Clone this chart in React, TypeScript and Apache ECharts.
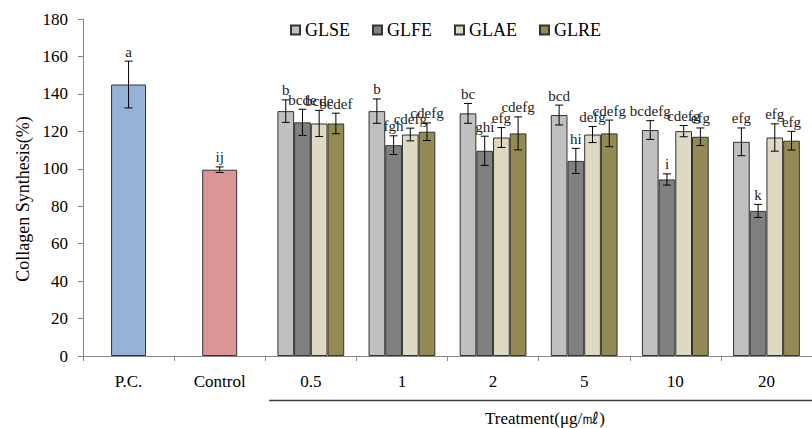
import React, { useEffect, useRef } from "react";
import * as echarts from "echarts";

const categories = ["P.C.", "Control", "0.5", "1", "2", "5", "10", "20"];
const yTicks = { min: 0, max: 180, interval: 20 };

const refValues = [145, 99.5];
const refErrors = [12.5, 1.5];
const refLetters = ["a", "ij"];

const groupNames = ["GLSE", "GLFE", "GLAE", "GLRE"];
const glse = [130.8, 130.8, 129.6, 128.7, 120.7, 114.4];
const glseErr = [6, 6.5, 5.3, 5.3, 5, 7.4];
const glseLetters = ["b", "b", "bc", "bcd", "bcdefg", "efg"];
const glfe = [124.8, 112.6, 109.6, 104.2, 94.3, 77.5];
const glfeErr = [7, 5, 7.8, 6.7, 3, 3.5];
const glfeLetters = ["bcde", "fgh", "ghi", "hi", "i", "k"];
const glae = [124.2, 118.3, 116.7, 118.3, 120.1, 116.7];
const glaeErr = [7, 3.4, 5.3, 4.3, 3, 7.3];
const glaeLetters = ["bcde", "cdefg", "efg", "defg", "cdefg", "efg"];
const glre = [124.2, 119.8, 118.9, 118.9, 117.1, 115];
const glreErr = [5.5, 4.7, 8.8, 7.1, 4.7, 5];
const glreLetters = ["bcdef", "cdefg", "cdefg", "cdefg", "efg", "efg"];

const groupValues = [glse, glfe, glae, glre];
const groupErrors = [glseErr, glfeErr, glaeErr, glreErr];
const groupLetters = [glseLetters, glfeLetters, glaeLetters, glreLetters];

const refColors = ["#95b3d7", "#d99694"];
const groupColors = ["#c0c0c0", "#808080", "#ddd9c3", "#948a54"];

const FONT = "Liberation Serif";
const GROUP_BAR_W = 16.7;
const REF_BAR_W = 35;
const FIRST_GROUP_CAT = 2;

function errRender(offset: number, letters: string[]) {
  return (params: any, api: any) => {
    const ci = api.value(0);
    const v = api.value(1);
    const e = api.value(2);
    const top = api.coord([ci, v + e]);
    const bot = api.coord([ci, v - e]);
    const x = top[0] + offset;
    const cap = 4;
    const ls = { stroke: "#000", lineWidth: 1 };
    return {
      type: "group",
      children: [
        { type: "line", shape: { x1: x, y1: top[1], x2: x, y2: bot[1] }, style: ls },
        { type: "line", shape: { x1: x - cap, y1: top[1], x2: x + cap, y2: top[1] }, style: ls },
        { type: "line", shape: { x1: x - cap, y1: bot[1], x2: x + cap, y2: bot[1] }, style: ls },
        {
          type: "text",
          x: x,
          y: top[1] - 2,
          style: {
            text: letters[params.dataIndex],
            fill: "#222",
            fontFamily: FONT,
            fontSize: 15,
            align: "center",
            verticalAlign: "bottom",
          },
        },
      ],
    };
  };
}

export default function App() {
  const ref = useRef<HTMLDivElement>(null);
  useEffect(() => {
    document.body.style.margin = "0";
    if (!ref.current) return;
    const chart = echarts.init(ref.current, null, { renderer: "svg" });

    const refData: any[] = categories.map((_, i) =>
      i < refValues.length
        ? { value: refValues[i], itemStyle: { color: refColors[i] } }
        : "-"
    );

    const groupBarSeries = groupNames.map((name, k) => ({
      name,
      type: "bar",
      xAxisIndex: 1,
      barWidth: GROUP_BAR_W,
      barGap: "0%",
      itemStyle: { color: groupColors[k], borderColor: "#333", borderWidth: 1 },
      data: categories.map((_, i) =>
        i >= FIRST_GROUP_CAT ? groupValues[k][i - FIRST_GROUP_CAT] : "-"
      ),
    }));

    const groupErrSeries = groupNames.map((name, k) => ({
      type: "custom",
      xAxisIndex: 0,
      z: 5,
      renderItem: errRender((k - 1.5) * GROUP_BAR_W, groupLetters[k]),
      data: groupValues[k].map((v, j) => [j + FIRST_GROUP_CAT, v, groupErrors[k][j]]),
    }));

    const option: any = {
      animation: false,
      grid: { left: 83, top: 19, width: 735, height: 337 },
      legend: {
        data: groupNames,
        left: 285,
        top: 16,
        icon: "rect",
        itemWidth: 9,
        itemHeight: 9,
        itemGap: 22,
        textStyle: { fontFamily: FONT, fontSize: 18, color: "#000" },
      },
      xAxis: [
        {
          type: "category",
          data: categories,
          axisLine: { lineStyle: { color: "#868686" } },
          axisTick: { show: true, length: 5, lineStyle: { color: "#868686" } },
          axisLabel: { fontFamily: FONT, fontSize: 17, color: "#000", margin: 17 },
        },
        { type: "category", data: categories, show: false },
      ],
      yAxis: {
        type: "value",
        min: yTicks.min,
        max: yTicks.max,
        interval: yTicks.interval,
        splitLine: { show: false },
        axisLine: { show: true, lineStyle: { color: "#868686" } },
        axisTick: { show: true, length: 5, lineStyle: { color: "#868686" } },
        axisLabel: { fontFamily: FONT, fontSize: 17, color: "#000", margin: 15 },
      },
      graphic: [
        {
          type: "text",
          x: 23,
          y: 199,
          rotation: Math.PI / 2,
          style: {
            text: "Collagen Synthesis(%)",
            fontFamily: FONT,
            fontSize: 18,
            fill: "#000",
            align: "center",
            verticalAlign: "middle",
          },
        },
        {
          type: "line",
          shape: { x1: 269, y1: 400.5, x2: 812, y2: 400.5 },
          style: { stroke: "#404040", lineWidth: 1.5 },
        },
        {
          type: "text",
          x: 545,
          y: 418,
          style: {
            text: "Treatment(μg/㎖)",
            fontFamily: FONT,
            fontSize: 17,
            fill: "#000",
            align: "center",
            verticalAlign: "middle",
          },
        },
      ],
      series: [
        {
          name: "Reference",
          type: "bar",
          xAxisIndex: 0,
          barWidth: REF_BAR_W,
          itemStyle: { borderColor: "#333", borderWidth: 1 },
          data: refData,
        },
        ...groupBarSeries,
        {
          type: "custom",
          xAxisIndex: 0,
          z: 5,
          renderItem: errRender(0, refLetters),
          data: refValues.map((v, i) => [i, v, refErrors[i]]),
        },
        ...groupErrSeries,
      ],
    };
    chart.setOption(option);
    return () => chart.dispose();
  }, []);
  return <div ref={ref} style={{ width: 812, height: 428 }} />;
}
